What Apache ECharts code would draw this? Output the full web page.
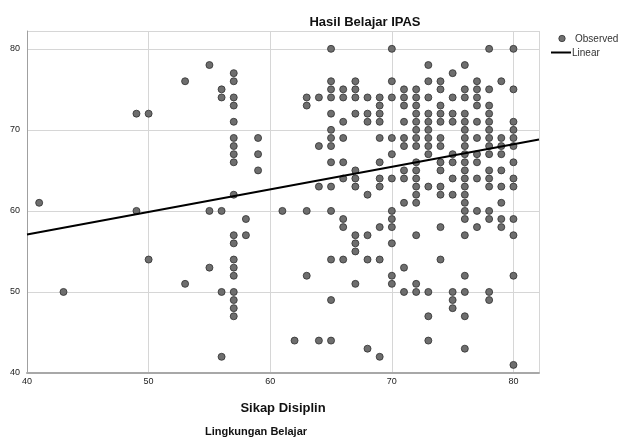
<!DOCTYPE html>
<html>
<head>
<meta charset="utf-8">
<script src="https://cdn.jsdelivr.net/npm/echarts@6/dist/echarts.min.js"></script>
<style>
  html, body { margin: 0; padding: 0; background: #fff; }
  #chart { width: 621px; height: 439px; }
</style>
</head>
<body>
<div id="chart"></div>
<script>
// Hasil Belajar IPAS (y) per baris, dengan nilai Sikap Disiplin (x) yang teramati
var scoreRows = [80, 78, 77, 76, 75, 74, 73, 72, 71, 70, 69, 68, 67, 66, 65, 64, 63, 62, 61, 60,
                 59, 58, 57, 56, 55, 54, 53, 52, 51, 50, 49, 48, 47, 44, 43, 42, 41];
var disciplineByRow = [
    [65, 70, 78, 80],
    [55, 73, 76],
    [57, 75],
    [53, 57, 65, 67, 70, 73, 74, 77, 79],
    [56, 65, 66, 67, 71, 72, 74, 76, 77, 78, 80],
    [56, 57, 63, 64, 65, 66, 67, 68, 69, 70, 71, 72, 73, 75, 76, 77],
    [57, 63, 69, 71, 72, 74, 77, 78],
    [49, 50, 65, 67, 68, 69, 72, 73, 74, 75, 76, 78],
    [57, 66, 68, 69, 71, 72, 73, 74, 75, 76, 77, 78, 80],
    [65, 72, 73, 76, 78, 80],
    [57, 59, 65, 66, 69, 70, 71, 72, 73, 74, 76, 77, 78, 79, 80],
    [57, 64, 65, 71, 72, 73, 74, 76, 78, 79, 80],
    [57, 59, 70, 73, 75, 76, 77, 78, 79],
    [57, 65, 66, 69, 72, 74, 75, 76, 77, 80],
    [59, 67, 71, 72, 74, 76, 78, 79],
    [66, 67, 69, 70, 71, 72, 75, 76, 77, 78, 80],
    [64, 65, 67, 69, 72, 73, 74, 76, 78, 79, 80],
    [57, 68, 72, 74, 75, 76],
    [41, 71, 72, 76, 79],
    [49, 55, 56, 61, 63, 65, 70, 76, 77, 78],
    [58, 66, 70, 76, 78, 79, 80],
    [66, 69, 70, 74, 77, 79],
    [57, 58, 67, 68, 72, 76, 80],
    [57, 67, 70],
    [67],
    [50, 57, 65, 66, 68, 69, 74],
    [55, 57, 71],
    [57, 63, 70, 76, 80],
    [53, 67, 70, 72],
    [43, 56, 57, 71, 72, 73, 75, 76, 78],
    [57, 65, 75, 78],
    [57, 75],
    [57, 73, 76],
    [62, 64, 65, 73],
    [68, 76],
    [56, 69],
    [80]
];
// garis Linear (titik kembar tertumpuk, jadi tidak dihitung ulang)
var fitX = [40, 82.1];
var fitY = [57.1, 68.8];
var xTicks = [40, 50, 60, 70, 80];
var yTicks = [40, 50, 60, 70, 80];

var xMin = 40, xMax = 82.1, yMin = 40, yMax = 82.2;

var chartView = {
    chart : null,
    points : [],
    fitLine : [],

    init : function () {
        chartView.chart = echarts.init(document.getElementById('chart'), null, {renderer: 'canvas'});
        chartView.buildPoints();
        chartView.fitLine = fitX.map(function (x, i) { return [x, fitY[i]]; });
        chartView.loadChart();
    },

    buildPoints : function () {
        chartView.points = [];
        for (var i = 0; i < scoreRows.length; i++) {
            var row = disciplineByRow[i];
            for (var j = 0; j < row.length; j++) {
                chartView.points.push([row[j], scoreRows[i]]);
            }
        }
    },

    loadChart : function () {
        var font = 'Liberation Sans, Arial, sans-serif';
        var option = {
            animation: false,
            backgroundColor: '#fff',
            title: {
                text: 'Hasil Belajar IPAS',
                left: 360,
                top: 11,
                textAlign: 'center',
                textStyle: { fontFamily: font, fontSize: 13, fontWeight: 'bold', color: '#111' }
            },
            grid: { left: 27, right: 82, top: 31, bottom: 66 },
            xAxis: {
                type: 'value',
                min: xMin,
                max: xMax,
                interval: 10,
                name: 'Sikap Disiplin',
                nameLocation: 'middle',
                nameGap: 29,
                nameTextStyle: { fontFamily: font, fontSize: 13, fontWeight: 'bold', color: '#111' },
                axisLine: { show: true, lineStyle: { color: '#a8a8a8', width: 2 } },
                axisTick: { show: false },
                axisLabel: { fontFamily: font, fontSize: 9, color: '#222', margin: 4, showMaxLabel: false,
                    formatter: function (v) { return xTicks.indexOf(v) >= 0 ? v : ''; } },
                splitLine: { show: true, lineStyle: { color: '#d6d6d6', width: 1 } }
            },
            yAxis: {
                type: 'value',
                min: yMin,
                max: yMax,
                interval: 10,
                axisLine: { show: true, lineStyle: { color: '#a0a0a0', width: 1 } },
                axisTick: { show: false },
                axisLabel: { fontFamily: font, fontSize: 9, color: '#222', margin: 7, showMaxLabel: false,
                    formatter: function (v) { return yTicks.indexOf(v) >= 0 ? v : ''; } },
                splitLine: { show: true, lineStyle: { color: '#d6d6d6', width: 1 } }
            },
            graphic: [
                {
                    type: 'text',
                    left: 205,
                    top: 426,
                    style: { text: 'Lingkungan Belajar', font: 'bold 11px ' + font, fill: '#111' }
                },
                // legenda
                {
                    type: 'circle',
                    shape: { cx: 562, cy: 38.5, r: 3.2 },
                    style: { fill: '#707070', stroke: '#333', lineWidth: 0.8 }
                },
                {
                    type: 'text',
                    x: 575, y: 39,
                    style: { text: 'Observed', font: '10px ' + font, fill: '#333', verticalAlign: 'middle' }
                },
                {
                    type: 'line',
                    shape: { x1: 551, y1: 52.5, x2: 571, y2: 52.5 },
                    style: { stroke: '#000', lineWidth: 2 }
                },
                {
                    type: 'text',
                    x: 572, y: 53,
                    style: { text: 'Linear', font: '10px ' + font, fill: '#333', verticalAlign: 'middle' }
                }
            ],
            series: [
                {
                    name: 'Observed',
                    type: 'scatter',
                    symbol: 'circle',
                    symbolSize: 7,
                    itemStyle: { color: '#6e6e6e', borderColor: '#2e2e2e', borderWidth: 0.8, opacity: 1 },
                    data: chartView.points,
                    z: 2
                },
                {
                    name: 'Linear',
                    type: 'line',
                    symbol: 'none',
                    lineStyle: { color: '#000', width: 2 },
                    itemStyle: { color: '#000' },
                    data: chartView.fitLine,
                    z: 3
                }
            ]
        };
        chartView.chart.setOption(option);
    }
};

chartView.init();
</script>
</body>
</html>
